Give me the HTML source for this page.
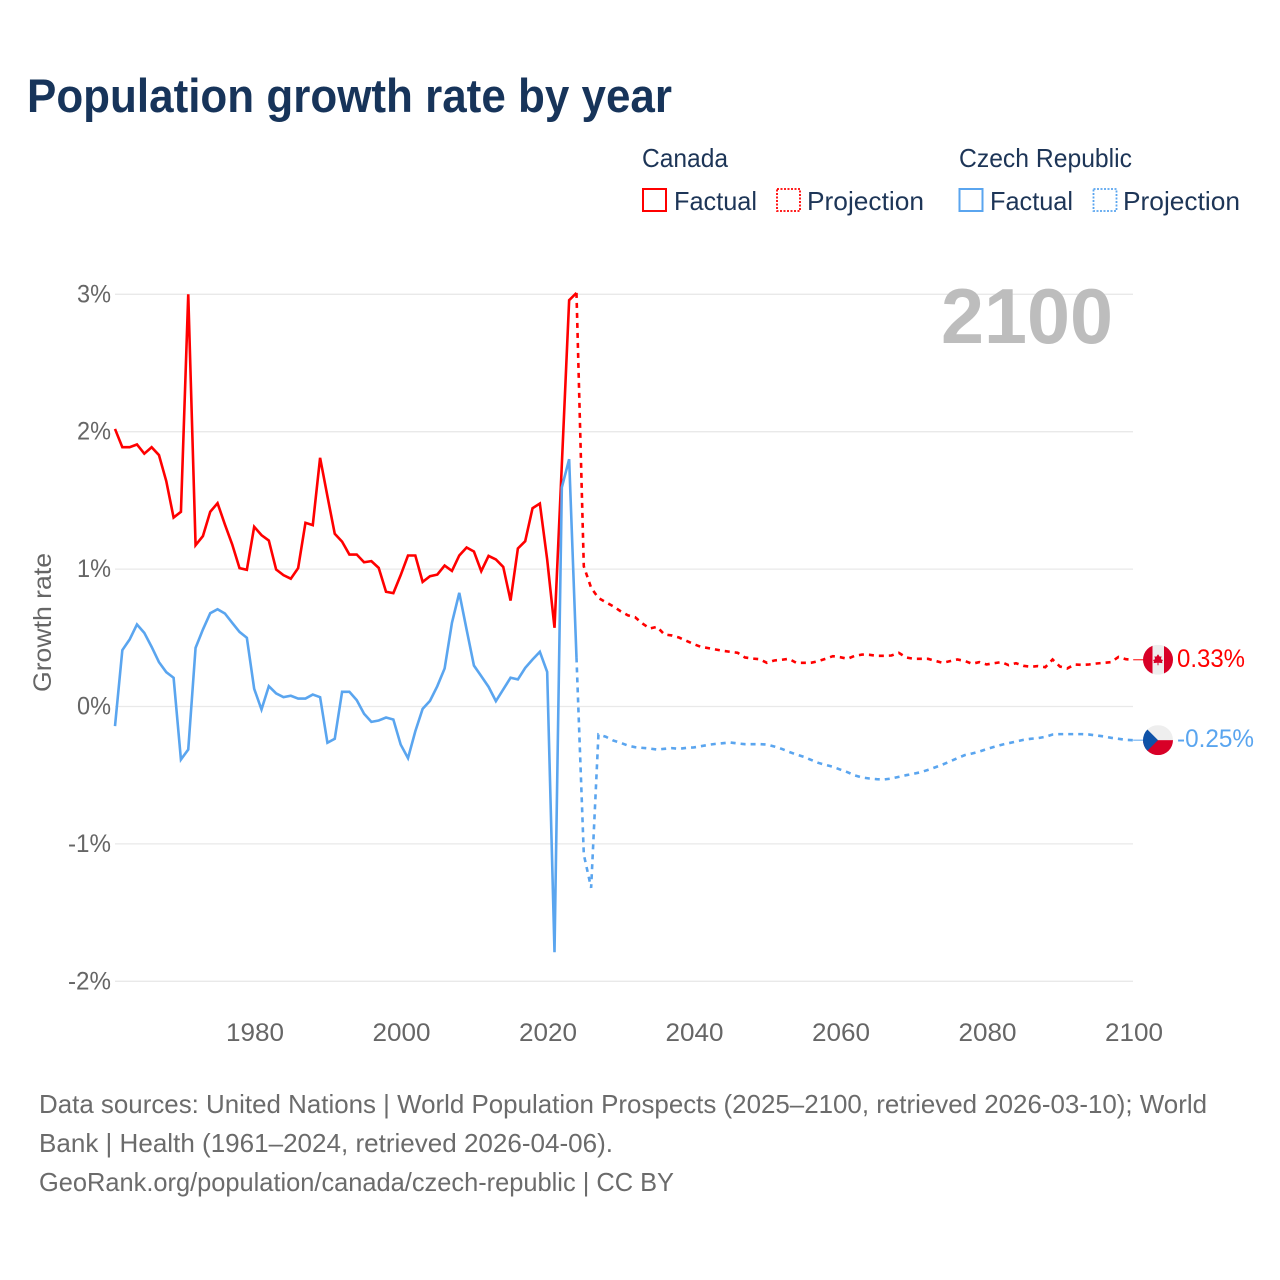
<!DOCTYPE html>
<html lang="en">
<head>
<meta charset="utf-8">
<title>Population growth rate by year</title>
<style>
html,body{margin:0;padding:0;background:#fff;width:1280px;height:1280px;overflow:hidden}
svg{display:block}
text{font-family:"Liberation Sans",sans-serif}
</style>
</head>
<body>
<svg id="chart" width="1280" height="1280" viewBox="0 0 1280 1280" xmlns="http://www.w3.org/2000/svg">
  <defs>
    <clipPath id="flag-clip-ca"><circle id="clip-ca" cx="1158" cy="660" r="15"/></clipPath>
    <clipPath id="flag-clip-cz"><circle id="clip-cz" cx="1158" cy="740" r="15"/></clipPath>
  </defs>
  <rect width="1280" height="1280" fill="#ffffff"/>
  <text x="27" y="112" font-size="47" font-weight="700" fill="#17345a" textLength="645" lengthAdjust="spacingAndGlyphs">Population growth rate by year</text>

  <g font-size="26" fill="#1d3557">
    <text x="642" y="167" textLength="86" lengthAdjust="spacingAndGlyphs">Canada</text>
    <rect x="643" y="189" width="23" height="22" fill="none" stroke="#ff0000" stroke-width="2"/>
    <text x="674" y="210" textLength="83" lengthAdjust="spacingAndGlyphs">Factual</text>
    <rect x="777" y="189" width="23" height="22" fill="none" stroke="#ff0000" stroke-width="1.8" stroke-dasharray="2 1.5"/>
    <text x="807" y="210" textLength="117" lengthAdjust="spacingAndGlyphs">Projection</text>
    <text x="959" y="167" textLength="173" lengthAdjust="spacingAndGlyphs">Czech Republic</text>
    <rect x="959.500" y="189" width="23" height="22" fill="none" stroke="#5aa5ef" stroke-width="2"/>
    <text x="990" y="210" textLength="83" lengthAdjust="spacingAndGlyphs">Factual</text>
    <rect x="1093.500" y="189" width="23" height="22" fill="none" stroke="#5aa5ef" stroke-width="1.8" stroke-dasharray="2 1.5"/>
    <text x="1123" y="210" textLength="117" lengthAdjust="spacingAndGlyphs">Projection</text>
  </g>

  <g id="grid"></g>
  <g id="yticks"></g>
  <g id="xticks"></g>
  <text transform="translate(51,622.5) rotate(-90)" text-anchor="middle" font-size="25" fill="#666666" textLength="139" lengthAdjust="spacingAndGlyphs">Growth rate</text>
  <text x="941" y="343" font-size="78" font-weight="700" fill="#bdbdbd" textLength="172" lengthAdjust="spacingAndGlyphs">2100</text>
  <g id="series"></g>

  <g id="flag-ca" clip-path="url(#flag-clip-ca)">
    <rect id="ca-bg" x="1143" y="645" width="30" height="30" fill="#eeeeee"/>
    <rect id="ca-l" x="1143" y="645" width="9.500" height="30" fill="#d80027"/>
    <rect id="ca-r" x="1164" y="645" width="9" height="30" fill="#d80027"/>
    <polygon id="ca-leaf" points="1158,654.500 1159.800,657 1161.500,656.500 1161,659.500 1163,660.200 1162,662 1162.500,663.300 1158.500,663 1158.500,665.500 1157.500,665.500 1157.500,663 1153.500,663.300 1154,662 1153,660.200 1155,659.500 1154.500,656.500 1156.200,657" fill="#d80027"/>
  </g>
  <g id="flag-cz" clip-path="url(#flag-clip-cz)">
    <rect id="cz-top" x="1143" y="725" width="30" height="15" fill="#eeeeee"/>
    <rect id="cz-bot" x="1143" y="740" width="30" height="15" fill="#d80027"/>
    <polygon id="cz-tri" points="1143,725 1143,755 1158,740" fill="#0f52a8"/>
  </g>

  <g font-size="26" fill="#6b6b6b">
    <text x="39" y="1113" textLength="1168" lengthAdjust="spacingAndGlyphs">Data sources: United Nations | World Population Prospects (2025–2100, retrieved 2026-03-10); World</text>
    <text x="39" y="1152" textLength="574" lengthAdjust="spacingAndGlyphs">Bank | Health (1961–2024, retrieved 2026-04-06).</text>
    <text x="39" y="1191" textLength="635" lengthAdjust="spacingAndGlyphs">GeoRank.org/population/canada/czech-republic | CC BY</text>
  </g>
</svg>
<script>
const firstFactualYear = 1961;
const firstProjectionYear = 2024;
const yTickValues = [3, 2, 1, 0, -1, -2];
const yTickLabels = ['3%', '2%', '1%', '0%', '-1%', '-2%'];
const xTickYears = [1980, 2000, 2020, 2040, 2060, 2080, 2100];
const xTickLabels = ['1980', '2000', '2020', '2040', '2060', '2080', '2100'];
const canadaFactual = [2.02,1.887,1.887,1.907,1.84,1.887,1.83,1.64,1.375,1.417,3.0,1.174,1.24,1.417,1.48,1.325,1.18,1.007,0.995,1.308,1.247,1.208,0.997,0.956,0.93,1.007,1.337,1.32,1.81,1.53,1.257,1.2,1.106,1.106,1.05,1.058,1.009,0.835,0.825,0.956,1.099,1.099,0.907,0.948,0.96,1.026,0.987,1.099,1.157,1.128,0.985,1.096,1.07,1.016,0.771,1.15,1.203,1.443,1.477,1.07,0.573,1.76,2.957,3.01];
const canadaProjection = [3.01,1.02,0.864,0.79,0.759,0.73,0.694,0.664,0.65,0.604,0.568,0.58,0.524,0.517,0.502,0.478,0.454,0.434,0.425,0.415,0.405,0.398,0.391,0.357,0.349,0.344,0.318,0.335,0.34,0.347,0.318,0.318,0.318,0.33,0.347,0.366,0.359,0.347,0.369,0.378,0.376,0.369,0.369,0.371,0.391,0.357,0.347,0.347,0.347,0.332,0.318,0.33,0.342,0.332,0.311,0.323,0.306,0.315,0.323,0.301,0.315,0.296,0.289,0.294,0.286,0.342,0.291,0.277,0.306,0.303,0.306,0.313,0.318,0.323,0.361,0.344,0.34];
const czechFactual = [-0.143,0.41,0.488,0.597,0.536,0.434,0.323,0.25,0.209,-0.386,-0.313,0.427,0.56,0.679,0.708,0.677,0.609,0.543,0.5,0.129,-0.022,0.148,0.095,0.068,0.078,0.058,0.058,0.087,0.068,-0.264,-0.235,0.107,0.107,0.046,-0.053,-0.112,-0.102,-0.08,-0.095,-0.277,-0.376,-0.18,-0.017,0.041,0.148,0.277,0.609,0.827,0.56,0.298,0.221,0.143,0.039,0.124,0.209,0.197,0.281,0.342,0.398,0.252,-1.788,1.594,1.8,0.357];
const czechProjection = [0.357,-1.077,-1.32,-0.204,-0.22,-0.247,-0.264,-0.284,-0.296,-0.301,-0.306,-0.313,-0.308,-0.303,-0.308,-0.301,-0.298,-0.289,-0.279,-0.272,-0.267,-0.262,-0.269,-0.274,-0.274,-0.274,-0.277,-0.291,-0.308,-0.33,-0.349,-0.366,-0.388,-0.41,-0.425,-0.439,-0.459,-0.478,-0.502,-0.517,-0.524,-0.529,-0.531,-0.524,-0.512,-0.5,-0.49,-0.478,-0.461,-0.442,-0.422,-0.4,-0.376,-0.354,-0.342,-0.328,-0.31,-0.294,-0.279,-0.267,-0.255,-0.243,-0.235,-0.23,-0.221,-0.204,-0.201,-0.201,-0.201,-0.201,-0.204,-0.211,-0.218,-0.228,-0.235,-0.243,-0.245];
const endLabels = ['0.33%', '-0.25%'];

const SVGNS = 'http://www.w3.org/2000/svg';
function xScale(year) { return 115 + (year - 1961) * 7.325; }
function yScale(value) { return 706.5 - value * 137.4; }
function tickX(year) { return 115.8 + (year - 1961) * 7.325; }
function make(tag, attrs, parent) {
  const el = document.createElementNS(SVGNS, tag);
  for (const k in attrs) el.setAttribute(k, attrs[k]);
  parent.appendChild(el);
  return el;
}

const gridGroup = document.getElementById('grid');
const yTickGroup = document.getElementById('yticks');
yTickValues.forEach(function (v, i) {
  const line = make('line', {x1: 115, x2: 1133, y1: yScale(v), y2: yScale(v), stroke: '#e9e9e9', 'stroke-width': 1.3}, gridGroup);
  
  
  const t = make('text', {x: 111, y: yScale(v) + 8, 'text-anchor': 'end', 'font-size': 25, fill: '#666666', textLength: yTickLabels[i].length > 2 ? 43 : 34, lengthAdjust: 'spacingAndGlyphs'}, yTickGroup);
  
  
  t.textContent = yTickLabels[i];
});

const xTickGroup = document.getElementById('xticks');
xTickYears.forEach(function (yr, i) {
  const t = make('text', {x: tickX(yr), y: 1041, 'text-anchor': 'middle', 'font-size': 25, fill: '#666666', textLength: 58, lengthAdjust: 'spacingAndGlyphs'}, xTickGroup);
  
  
  t.textContent = xTickLabels[i];
});

function linePath(values, startYear) {
  return values.map(function (v, i) {
    return (i ? 'L' : 'M') + xScale(startYear + i).toFixed(2) + ' ' + yScale(v).toFixed(2);
  }).join(' ');
}
const seriesGroup = document.getElementById('series');
const RED = '#ff0000';
const BLUE = '#5aa5ef';

const canadaFactualLine = make('path', {d: linePath(canadaFactual, firstFactualYear), fill: 'none', stroke: RED, 'stroke-width': 2.6, 'stroke-linejoin': 'miter'}, seriesGroup);


const czechFactualLine = make('path', {d: linePath(czechFactual, firstFactualYear), fill: 'none', stroke: BLUE, 'stroke-width': 2.6, 'stroke-linejoin': 'miter'}, seriesGroup);


const canadaProjectionLine = make('path', {d: linePath(canadaProjection, firstProjectionYear), fill: 'none', stroke: RED, 'stroke-width': 2.6, 'stroke-dasharray': '5 5'}, seriesGroup);


const czechProjectionLine = make('path', {d: linePath(czechProjection, firstProjectionYear), fill: 'none', stroke: BLUE, 'stroke-width': 2.6, 'stroke-dasharray': '5 5'}, seriesGroup);



const canadaEnd = yScale(canadaProjection[canadaProjection.length - 1]);
const czechEnd = yScale(czechProjection[czechProjection.length - 1]);
const canadaLeader = make('line', {x1: xScale(2100), x2: 1144, y1: canadaEnd, y2: canadaEnd, stroke: RED, 'stroke-width': 1}, seriesGroup);


const czechLeader = make('line', {x1: xScale(2100), x2: 1144, y1: czechEnd, y2: czechEnd, stroke: BLUE, 'stroke-width': 1}, seriesGroup);



const canadaLabel = make('text', {x: 1177, y: canadaEnd + 7, 'font-size': 25, fill: RED, textLength: 68, lengthAdjust: 'spacingAndGlyphs'}, seriesGroup);


canadaLabel.textContent = endLabels[0];
const czechLabel = make('text', {x: 1177, y: czechEnd + 7, 'font-size': 25, fill: BLUE, textLength: 77, lengthAdjust: 'spacingAndGlyphs'}, seriesGroup);


czechLabel.textContent = endLabels[1];

document.getElementById('clip-ca').setAttribute('cy', canadaEnd);
document.getElementById('clip-cz').setAttribute('cy', czechEnd);
document.getElementById('flag-ca').querySelectorAll('rect,polygon').forEach(function (el) {
  el.setAttribute('transform', 'translate(0,' + (canadaEnd - 660) + ')');
});
document.getElementById('flag-cz').querySelectorAll('rect,polygon').forEach(function (el) {
  el.setAttribute('transform', 'translate(0,' + (czechEnd - 740) + ')');
});
</script>
</body>
</html>
